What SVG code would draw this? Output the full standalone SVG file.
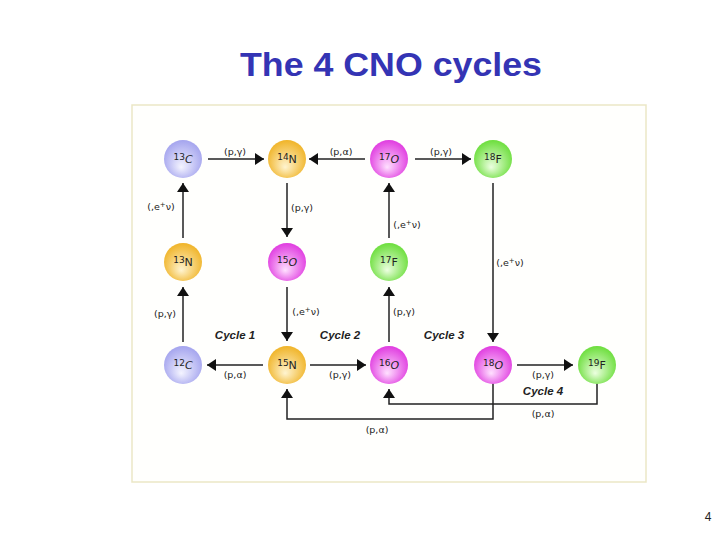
<svg xmlns="http://www.w3.org/2000/svg" width="720" height="540" viewBox="0 0 720 540">
<defs>
<radialGradient id="gB" cx="50%" cy="55%" r="55%" fx="45%" fy="72%"><stop offset="0" stop-color="#f4f4ff"/><stop offset="1" stop-color="#a4a4ee"/></radialGradient>
<radialGradient id="gN" cx="50%" cy="55%" r="55%" fx="45%" fy="72%"><stop offset="0" stop-color="#fff4d0"/><stop offset="1" stop-color="#f0b428"/></radialGradient>
<radialGradient id="gO" cx="50%" cy="55%" r="55%" fx="45%" fy="72%"><stop offset="0" stop-color="#ffe0ff"/><stop offset="1" stop-color="#e03ce0"/></radialGradient>
<radialGradient id="gF" cx="50%" cy="55%" r="55%" fx="45%" fy="72%"><stop offset="0" stop-color="#ecffe0"/><stop offset="1" stop-color="#6cde3c"/></radialGradient>
<marker id="ah" markerUnits="userSpaceOnUse" markerWidth="10" markerHeight="12" refX="9" refY="6" orient="auto"><path d="M0,0 L9,6 L0,12 z" fill="#111"/></marker>
<style>
.title{font-family:"Liberation Sans",Arial,sans-serif;font-weight:bold;font-size:34px;fill:#3434b4}
.lab{font-family:"DejaVu Sans",Verdana,sans-serif;font-size:9.5px;fill:#222;text-anchor:middle}
.cyc{font-family:"Liberation Sans",Arial,sans-serif;font-style:italic;font-weight:bold;font-size:11.5px;fill:#222;text-anchor:middle}
.nl{font-family:"DejaVu Sans",Verdana,sans-serif;fill:#222;text-anchor:middle}
.m{font-size:9px}
.e{font-size:11px}
.i{font-style:italic}
.con path{fill:none;stroke:#222;stroke-width:1.5}
.arr{marker-end:url(#ah)}
</style>
</defs>
<rect x="0" y="0" width="720" height="540" fill="#ffffff"/>
<text class="title" x="240" y="76" textLength="302" lengthAdjust="spacingAndGlyphs">The 4 CNO cycles</text>
<rect x="132" y="105" width="514" height="377" fill="#fffffd" stroke="#ebe7c6" stroke-width="1.5"/>

<g id="connectors" class="con">
<path class="arr" d="M208,159 L264,159"/>
<path class="arr" d="M365,159 L309,159"/>
<path class="arr" d="M415,159 L471,159"/>
<path class="arr" d="M287,183 L287,237"/>
<path class="arr" d="M183,238 L183,183"/>
<path class="arr" d="M389,238 L389,183"/>
<path class="arr" d="M493,183 L493,342"/>
<path class="arr" d="M183,342 L183,287"/>
<path class="arr" d="M287,287 L287,341"/>
<path class="arr" d="M389,342 L389,287"/>
<path class="arr" d="M263,365 L207,365"/>
<path class="arr" d="M310,365 L366,365"/>
<path class="arr" d="M517,365 L573,365"/>
<path class="arr" d="M493,383 L493,419 L287,419 L287,389"/>
<path class="arr" d="M597,383 L597,404 L389,404 L389,389"/>
</g>

<g id="labels">
<text class="lab" x="235" y="155">(p,γ)</text>
<text class="lab" x="341" y="155">(p,α)</text>
<text class="lab" x="441" y="155">(p,γ)</text>
<text class="lab" x="302" y="211">(p,γ)</text>
<text class="lab" x="161" y="210">(,e<tspan font-size="7" dy="-3">+</tspan><tspan dy="3">ν)</tspan></text>
<text class="lab" x="407" y="228">(,e<tspan font-size="7" dy="-3">+</tspan><tspan dy="3">ν)</tspan></text>
<text class="lab" x="510" y="266">(,e<tspan font-size="7" dy="-3">+</tspan><tspan dy="3">ν)</tspan></text>
<text class="lab" x="165" y="317">(p,γ)</text>
<text class="lab" x="306" y="315">(,e<tspan font-size="7" dy="-3">+</tspan><tspan dy="3">ν)</tspan></text>
<text class="lab" x="404" y="315">(p,γ)</text>
<text class="lab" x="235" y="378">(p,α)</text>
<text class="lab" x="340" y="378">(p,γ)</text>
<text class="lab" x="543" y="378">(p,γ)</text>
<text class="lab" x="543" y="417">(p,α)</text>
<text class="lab" x="377" y="433">(p,α)</text>
<text class="cyc" x="235" y="339">Cycle 1</text>
<text class="cyc" x="340" y="339">Cycle 2</text>
<text class="cyc" x="444" y="339">Cycle 3</text>
<text class="cyc" x="543" y="395">Cycle 4</text>
</g>

<g id="n13C"><circle cx="183" cy="159" r="19" fill="url(#gB)"/><text class="nl" x="183" y="163"><tspan class="m" dy="-3">13</tspan><tspan class="e i" dy="3">C</tspan></text></g>
<g id="n14N"><circle cx="287" cy="159" r="19" fill="url(#gN)"/><text class="nl" x="287" y="163"><tspan class="m" dy="-3">14</tspan><tspan class="e" dy="3">N</tspan></text></g>
<g id="n17O"><circle cx="389" cy="159" r="19" fill="url(#gO)"/><text class="nl" x="389" y="163"><tspan class="m" dy="-3">17</tspan><tspan class="e i" dy="3">O</tspan></text></g>
<g id="n18F"><circle cx="493" cy="159" r="19" fill="url(#gF)"/><text class="nl" x="493" y="163"><tspan class="m" dy="-3">18</tspan><tspan class="e" dy="3">F</tspan></text></g>
<g id="n13N"><circle cx="183" cy="262" r="19" fill="url(#gN)"/><text class="nl" x="183" y="266"><tspan class="m" dy="-3">13</tspan><tspan class="e" dy="3">N</tspan></text></g>
<g id="n15O"><circle cx="287" cy="262" r="19" fill="url(#gO)"/><text class="nl" x="287" y="266"><tspan class="m" dy="-3">15</tspan><tspan class="e i" dy="3">O</tspan></text></g>
<g id="n17F"><circle cx="389" cy="262" r="19" fill="url(#gF)"/><text class="nl" x="389" y="266"><tspan class="m" dy="-3">17</tspan><tspan class="e" dy="3">F</tspan></text></g>
<g id="n12C"><circle cx="183" cy="365" r="19" fill="url(#gB)"/><text class="nl" x="183" y="369"><tspan class="m" dy="-3">12</tspan><tspan class="e i" dy="3">C</tspan></text></g>
<g id="n15N"><circle cx="287" cy="365" r="19" fill="url(#gN)"/><text class="nl" x="287" y="369"><tspan class="m" dy="-3">15</tspan><tspan class="e" dy="3">N</tspan></text></g>
<g id="n16O"><circle cx="389" cy="365" r="19" fill="url(#gO)"/><text class="nl" x="389" y="369"><tspan class="m" dy="-3">16</tspan><tspan class="e i" dy="3">O</tspan></text></g>
<g id="n18O"><circle cx="493" cy="365" r="19" fill="url(#gO)"/><text class="nl" x="493" y="369"><tspan class="m" dy="-3">18</tspan><tspan class="e i" dy="3">O</tspan></text></g>
<g id="n19F"><circle cx="597" cy="365" r="19" fill="url(#gF)"/><text class="nl" x="597" y="369"><tspan class="m" dy="-3">19</tspan><tspan class="e" dy="3">F</tspan></text></g>

<text x="708" y="521" font-family="Liberation Sans, Arial, sans-serif" font-size="12" fill="#222" text-anchor="middle">4</text>
</svg>
